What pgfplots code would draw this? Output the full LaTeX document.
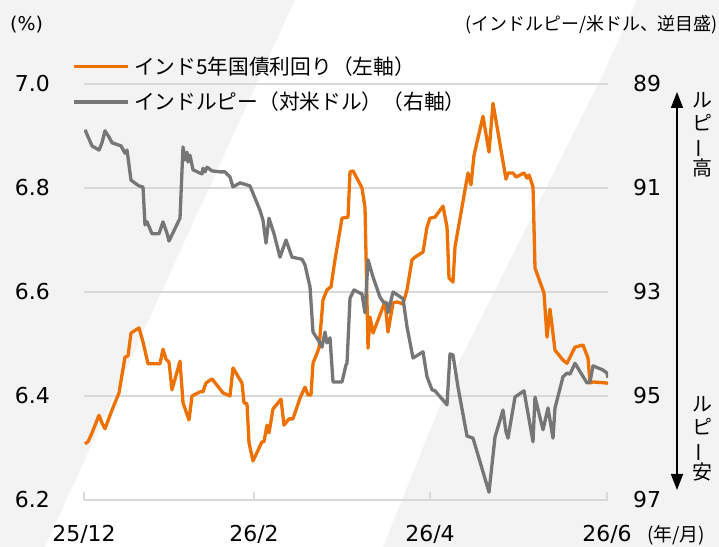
\documentclass[border=0pt]{standalone}
\usepackage{fontspec}
\setmainfont{DejaVu Sans}
\newfontfamily\jp{Noto Sans CJK JP}
\usepackage{pgfplots}
\pgfplotsset{compat=1.18}
\usetikzlibrary{arrows.meta}
\definecolor{bgray}{RGB}{243,243,243}
\definecolor{gridgray}{RGB}{217,217,217}
\definecolor{inrorange}{RGB}{237,113,0}
\definecolor{inrgray}{RGB}{118,118,118}

\begin{document}
\begin{tikzpicture}
\fill[bgray] (0bp,0bp) rectangle (719bp,547bp);
\fill[white] (45bp,0bp) -- (295bp,547bp) -- (637bp,547bp) -- (600bp,467bp) -- (450bp,167bp) -- (383bp,0bp) -- cycle;

\begin{axis}[
  at={(84bp,47bp)}, anchor=south west,
  scale only axis, width=524bp, height=416bp,
  xmin=0, xmax=524, ymin=6.2, ymax=7.0,
  axis x line*=bottom, axis y line*=left,
  y axis line style={draw=none},
  x axis line style={draw=gridgray, line width=1.5bp},
  tick align=inside,
  xtick={0,170,346,523},
  xticklabels={25/12,26/2,26/4,26/6},
  xtick style={draw=gridgray, line width=1.5bp},
  major tick length=8bp,
  ytick={6.2,6.4,6.6,6.8,7.0},
  yticklabels={6.2,6.4,6.6,6.8,7.0},
  ytick style={draw=none},
  ymajorgrids,
  grid style={draw=gridgray, line width=1.5bp},
  xticklabel style={font=\fontsize{22}{26}\selectfont, anchor=north, inner sep=0pt, yshift=-25bp},
  yticklabel style={font=\fontsize{22}{26}\selectfont, anchor=east, inner sep=0pt, xshift=-34bp},
  legend style={
    at={(axis description cs:-0.0215,1.0649)}, anchor=north west,
    draw=none, fill=none, inner sep=0pt, outer sep=0pt,
    row sep=16bp, column sep=4bp,
    font=\jp\fontsize{20.8}{24}\selectfont,
    nodes={inner sep=0pt},
  },
  legend cell align=left,
  legend image code/.code={\draw[#1] (0bp,0bp) -- (54bp,0bp);},
]
\addplot[inrorange, line width=3.3bp, line join=round] coordinates {
(1,6.308) (4,6.312) (8,6.329) (15,6.363) (18,6.348) (21,6.337) (28,6.373) (35,6.406) (41,6.475) (44,6.477) (47,6.521) (55,6.531) (59,6.504) (64,6.462) (76,6.462) (79,6.490) (82,6.471) (85,6.465) (88,6.412) (96,6.467) (99,6.387) (105,6.354) (108,6.400) (116,6.408) (119,6.408) (122,6.425) (128,6.433) (139,6.406) (146,6.400) (149,6.454) (158,6.425) (160,6.387) (163,6.385) (165,6.310) (169,6.275) (178,6.312) (180,6.312) (183,6.344) (185,6.329) (189,6.375) (197,6.394) (200,6.344) (205,6.356) (209,6.356) (216,6.396) (221,6.417) (224,6.402) (227,6.402) (229,6.463) (235,6.492) (239,6.585) (243,6.604) (247,6.610) (251,6.662) (258,6.742) (264,6.744) (266,6.831) (269,6.833) (278,6.800) (281,6.762) (284,6.492) (286,6.552) (289,6.521) (301,6.581) (304,6.523) (309,6.579) (313,6.581) (319,6.577) (323,6.604) (328,6.662) (331,6.667) (339,6.677) (343,6.725) (346,6.742) (351,6.744) (359,6.765) (363,6.725) (365,6.627) (369,6.619) (371,6.687) (384,6.829) (387,6.806) (390,6.863) (399,6.938) (405,6.869) (409,6.963) (422,6.817) (424,6.829) (429,6.829) (432,6.821) (440,6.829) (443,6.819) (445,6.825) (449,6.802) (451,6.646) (460,6.598) (463,6.513) (466,6.567) (471,6.488) (479,6.469) (483,6.463) (491,6.494) (499,6.498) (504,6.473) (506,6.425) (509,6.427) (523,6.425) (524,6.423)
};
\addlegendentry{インド5年国債利回り（左軸）}
\addlegendimage{inrgray, line width=3.3bp}
\addlegendentry{インドルピー（対米ドル）（右軸）}
\end{axis}

\begin{axis}[
  at={(84bp,47bp)}, anchor=south west,
  scale only axis, width=524bp, height=416bp,
  xmin=0, xmax=524, ymin=89, ymax=97,
  y dir=reverse,
  axis x line=none, axis y line*=right,
  y axis line style={draw=none},
  tick align=inside,
  ytick={89,91,93,95,97},
  yticklabels={89,91,93,95,97},
  ytick style={draw=none},
  yticklabel style={font=\fontsize{22}{26}\selectfont, anchor=west, inner sep=0pt, xshift=25bp},
]
\addplot[inrgray, line width=3.3bp, line join=round] coordinates {
(1,89.88) (8,90.19) (15,90.27) (18,90.13) (21,89.90) (25,90.02) (28,90.13) (37,90.19) (41,90.33) (43,90.27) (47,90.85) (55,90.96) (59,90.98) (61,91.71) (63,91.65) (68,91.88) (75,91.88) (79,91.65) (83,91.87) (85,92.02) (96,91.58) (99,90.21) (101,90.46) (103,90.31) (104,90.50) (106,90.37) (109,90.65) (118,90.73) (119,90.62) (121,90.69) (123,90.60) (128,90.67) (136,90.69) (141,90.69) (146,90.79) (149,90.98) (156,90.90) (166,90.96) (176,91.43) (179,91.62) (182,92.06) (185,91.58) (190,91.88) (196,92.33) (202,92.00) (208,92.33) (218,92.37) (221,92.48) (226,92.90) (229,93.77) (236,93.98) (238,94.06) (241,93.77) (243,93.98) (246,93.88) (249,94.73) (258,94.73) (262,94.40) (263,94.37) (266,93.12) (270,92.96) (278,93.04) (281,93.40) (284,92.38) (289,92.71) (296,93.10) (300,93.21) (303,93.21) (304,93.40) (309,93.00) (319,93.13) (323,93.67) (329,94.27) (339,94.15) (343,94.63) (348,94.88) (351,94.90) (363,95.17) (366,94.19) (369,94.21) (374,94.83) (383,95.77) (389,95.81) (405,96.85) (411,95.79) (419,95.27) (422,95.69) (424,95.81) (431,95.02) (440,94.90) (449,95.88) (451,95.02) (459,95.65) (464,95.23) (469,95.81) (471,95.23) (479,94.63) (483,94.56) (486,94.58) (491,94.37) (503,94.75) (506,94.73) (509,94.42) (519,94.50) (523,94.56) (524,94.65)
};
\end{axis}

\node[anchor=west, inner sep=0pt, font=\fontsize{19}{22}\selectfont] at (10bp,522bp) {(\%)};
\node[anchor=east, inner sep=0pt, font=\jp\fontsize{18}{21}\selectfont] at (718bp,522bp) {(インドルピー/米ドル、逆目盛)};
\node[anchor=west, inner sep=0pt, font=\jp\fontsize{19}{22}\selectfont] at (647bp,12bp) {(年/月)};
\draw[{Triangle[width=12bp,length=16bp]}-{Triangle[width=12bp,length=16bp]}, line width=1.5bp] (677bp,455bp) -- (677bp,57bp);
\node[anchor=north, inner sep=0pt, align=center, font=\jp\fontsize{20}{23}\selectfont] at (702bp,455bp) {ル\\ピ\\\rotatebox[origin=c]{90}{ー}\\高};
\node[anchor=north, inner sep=0pt, align=center, font=\jp\fontsize{20}{23}\selectfont] at (702bp,151bp) {ル\\ピ\\\rotatebox[origin=c]{90}{ー}\\安};

\pgfresetboundingbox
\path[use as bounding box] (0bp,0bp) rectangle (719bp,547bp);
\end{tikzpicture}
\end{document}
